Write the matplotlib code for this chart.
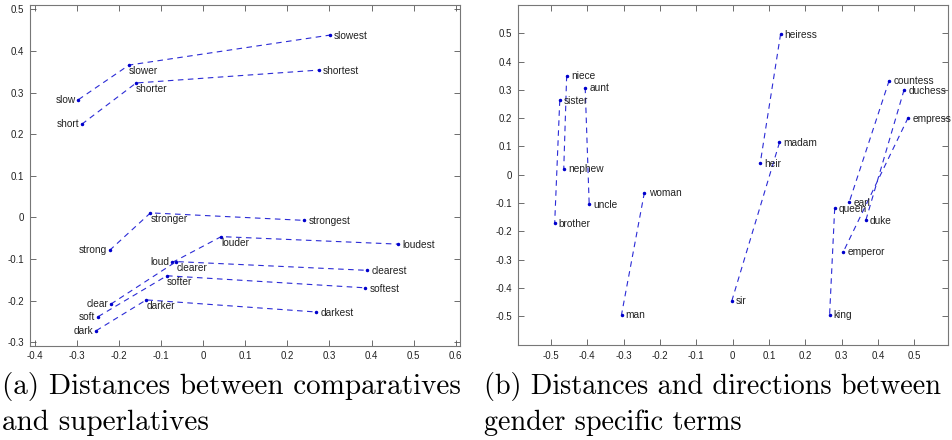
import matplotlib
matplotlib.use("Agg")
import matplotlib.pyplot as plt
import numpy as np

plt.rcParams['font.family'] = ['Liberation Sans', 'DejaVu Sans']

# (a) base -> comparative -> superlative
base_words = ['slow', 'short', 'strong', 'loud', 'clear', 'soft', 'dark']
base_x = [-0.296, -0.288, -0.222, -0.073, -0.219, -0.249, -0.254]
base_y = [0.283, 0.224, -0.079, -0.108, -0.208, -0.238, -0.272]
comp_words = ['slower', 'shorter', 'stronger', 'louder', 'clearer', 'softer', 'darker']
comp_x = [-0.176, -0.159, -0.125, 0.043, -0.064, -0.086, -0.135]
comp_y = [0.366, 0.323, 0.011, -0.046, -0.106, -0.140, -0.198]
sup_words = ['slowest', 'shortest', 'strongest', 'loudest', 'clearest', 'softest', 'darkest']
sup_x = [0.301, 0.275, 0.240, 0.462, 0.389, 0.385, 0.268]
sup_y = [0.438, 0.354, -0.007, -0.064, -0.127, -0.169, -0.227]

# (b) female -> male pairs
fem_words = ['niece', 'aunt', 'sister', 'woman', 'heiress', 'madam',
             'countess', 'duchess', 'empress', 'queen']
fem_x = [-0.457, -0.406, -0.476, -0.243, 0.132, 0.129, 0.431, 0.472, 0.483, 0.281]
fem_y = [0.350, 0.308, 0.263, -0.063, 0.497, 0.114, 0.333, 0.300, 0.201, -0.119]
male_words = ['nephew', 'uncle', 'brother', 'man', 'heir', 'sir',
              'earl', 'duke', 'emperor', 'king']
male_x = [-0.465, -0.395, -0.490, -0.306, 0.076, -0.002, 0.321, 0.367, 0.305, 0.267]
male_y = [0.021, -0.104, -0.172, -0.495, 0.041, -0.445, -0.097, -0.160, -0.272, -0.495]

line_kw = dict(color='#2b2bd6', lw=0.8, ls=(0, (5, 4)), marker='.', ms=3,
               mfc='#0000cc', mec='#0000cc')
txt_kw = dict(fontsize=7.3, color='#222222', textcoords='offset points')

fig = plt.figure(figsize=(9.53, 4.4), dpi=100)
W, H = 953, 440
ax1 = fig.add_axes([30 / W, 1 - 345.7 / H, 430.5 / W, 341 / H])
ax2 = fig.add_axes([518 / W, 1 - 345 / H, 430 / W, 340.3 / H])

for i in range(len(base_words)):
    ax1.plot([base_x[i], comp_x[i], sup_x[i]], [base_y[i], comp_y[i], sup_y[i]], **line_kw)
    ax1.annotate(base_words[i], (base_x[i], base_y[i]), xytext=(-2, 0),
                 ha='right', va='center', **txt_kw)
    ax1.annotate(comp_words[i], (comp_x[i], comp_y[i]), xytext=(0, -1),
                 ha='left', va='top', **txt_kw)
    ax1.annotate(sup_words[i], (sup_x[i], sup_y[i]), xytext=(3, -0.5),
                 ha='left', va='center', **txt_kw)

for i in range(len(fem_words)):
    ax2.plot([fem_x[i], male_x[i]], [fem_y[i], male_y[i]], **line_kw)
    ax2.annotate(fem_words[i], (fem_x[i], fem_y[i]), xytext=(3, -0.5),
                 ha='left', va='center', **txt_kw)
    ax2.annotate(male_words[i], (male_x[i], male_y[i]), xytext=(3, -0.5),
                 ha='left', va='center', **txt_kw)

ax1.set_xlim(-0.411, 0.611)
ax1.set_ylim(-0.308, 0.511)
ax1.set_xticks(np.arange(-0.4, 0.61, 0.1))
ax1.set_yticks(np.arange(-0.3, 0.51, 0.1))
ax2.set_xlim(-0.591, 0.593)
ax2.set_ylim(-0.602, 0.601)
ax2.set_xticks(np.arange(-0.5, 0.51, 0.1))
ax2.set_yticks(np.arange(-0.5, 0.51, 0.1))

fmt = matplotlib.ticker.FuncFormatter(lambda v, p: '%g' % (round(v, 2) + 0.0))
for ax in (ax1, ax2):
    ax.xaxis.set_major_formatter(fmt)
    ax.yaxis.set_major_formatter(fmt)
    ax.tick_params(direction='in', top=True, right=True, length=4, width=0.6,
                   labelsize=7, color='#555555', labelcolor='#222222', pad=4)
    for s in ax.spines.values():
        s.set_color('#777777')
        s.set_linewidth(0.8)

cap_kw = dict(family='cmr10', fontsize=21, color='black', va='center', ha='left')
fig.text(2 / W, 1 - 386 / H, '(a) Distances between comparatives', **cap_kw)
fig.text(2 / W, 1 - 423 / H, 'and superlatives', **cap_kw)
cap_kw['fontsize'] = 20.3
fig.text(484 / W, 1 - 386 / H, '(b) Distances and directions between', **cap_kw)
fig.text(484 / W, 1 - 423 / H, 'gender specific terms', **cap_kw)

fig.savefig('out.png', dpi=100)
